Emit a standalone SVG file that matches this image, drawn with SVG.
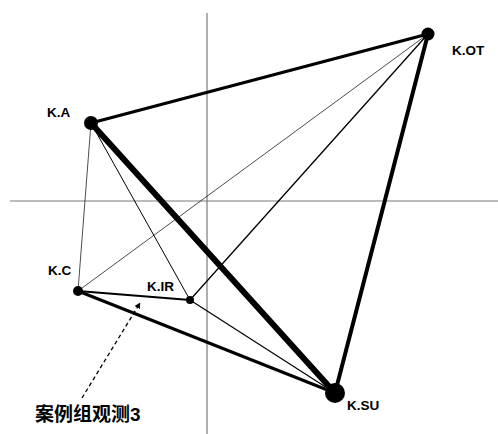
<svg xmlns="http://www.w3.org/2000/svg" width="498" height="434" viewBox="0 0 498 434">
<style>
.axis{stroke:#7a7a7a;stroke-width:1.2;fill:none}
.edge{stroke:#000;fill:none;stroke-linecap:round}
.node{fill:#000}
.lbl{font-family:"Liberation Sans",Arial,sans-serif;font-weight:bold;font-size:13.5px;fill:#000}
.cap{font-family:"Liberation Sans","Noto Sans CJK SC",sans-serif;font-weight:bold;font-size:19px;fill:#000}
</style>
<defs>
<marker id="ah" viewBox="0 0 10 10" refX="9" refY="5" markerWidth="6" markerHeight="6" orient="auto" markerUnits="userSpaceOnUse">
<path d="M0,0 L10,5 L0,10 z" fill="#000"/>
</marker>
</defs>
<g id="axes">
<line class="axis" x1="207" y1="13" x2="207" y2="434"/>
<line class="axis" x1="10" y1="201" x2="498" y2="201"/>
</g>
<g id="connectors">
<line class="edge" x1="78" y1="291" x2="428" y2="34" stroke-width="0.7"/>
<line class="edge" x1="91" y1="123" x2="78" y2="291" stroke-width="0.7"/>
<line class="edge" x1="91" y1="123" x2="190" y2="300" stroke-width="1"/>
<line class="edge" x1="190" y1="300" x2="428" y2="34" stroke-width="1.3"/>
<line class="edge" x1="190" y1="300" x2="335" y2="393" stroke-width="1.2"/>
<line class="edge" x1="78" y1="291" x2="190" y2="300" stroke-width="2.2"/>
<line class="edge" x1="78" y1="291" x2="335" y2="393" stroke-width="3"/>
<line class="edge" x1="91" y1="123" x2="428" y2="34" stroke-width="3.3"/>
<line class="edge" x1="428" y1="34" x2="335" y2="393" stroke-width="4"/>
<line class="edge" x1="91" y1="123" x2="335" y2="393" stroke-width="6"/>
<line x1="82" y1="398" x2="140" y2="303" stroke="#000" stroke-width="1.3" stroke-dasharray="4,3" marker-end="url(#ah)"/>
</g>
<g id="K.A"><circle class="node" cx="91" cy="123" r="7"/><text class="lbl" x="47" y="117">K.A</text></g>
<g id="K.OT"><circle class="node" cx="428" cy="34" r="6.5"/><text class="lbl" x="452" y="55">K.OT</text></g>
<g id="K.SU"><circle class="node" cx="335" cy="393" r="10"/><text class="lbl" x="347" y="410">K.SU</text></g>
<g id="K.C"><circle class="node" cx="78" cy="291" r="5"/><text class="lbl" x="48" y="275">K.C</text></g>
<g id="K.IR"><circle class="node" cx="190" cy="300" r="4"/><text class="lbl" x="147" y="291">K.IR</text></g>
<g id="caption"><text class="cap" x="35" y="421">案例组观测3</text></g>
</svg>
